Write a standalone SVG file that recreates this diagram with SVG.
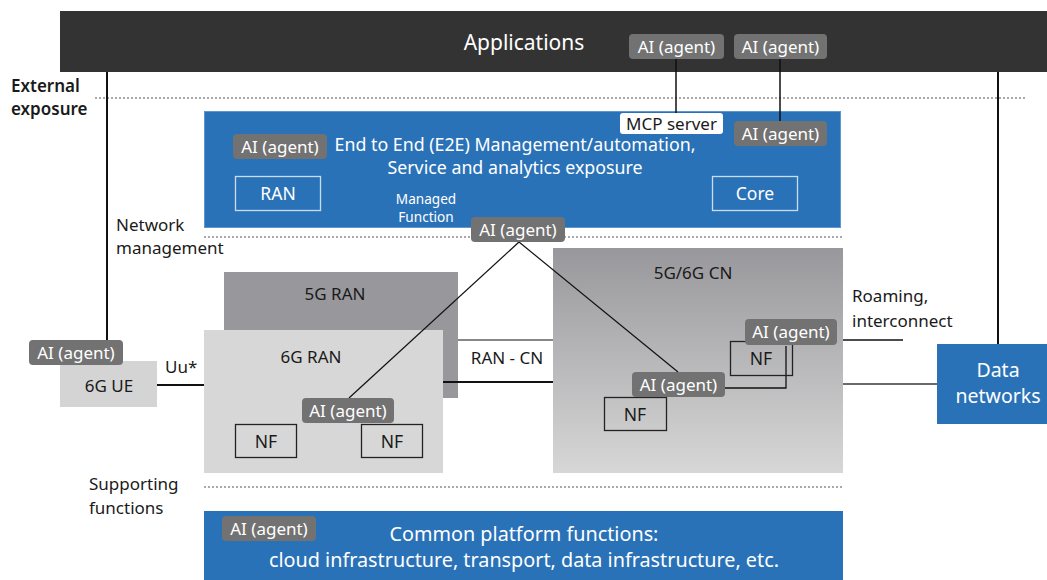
<svg xmlns="http://www.w3.org/2000/svg" width="1047" height="580" viewBox="0 0 1047 580">
  <defs>
    <linearGradient id="cnGrad" x1="0" y1="0" x2="0" y2="1">
      <stop offset="0" stop-color="#98989c"/>
      <stop offset="1" stop-color="#d7d7d7"/>
    </linearGradient>
    <style>
      text { font-family: "Noto Sans", "Liberation Sans", sans-serif; }
      .badge rect { fill: #727272; }
      .badge text { fill: #ffffff; font-size: 17px; text-anchor: middle; }
      .lbl { fill: #1a1a1a; font-size: 17px; }
      .wht { fill: #ffffff; }
      .blue { fill: #2a72b8; }
      .sep { stroke: #555; stroke-width: 1.2; stroke-dasharray: 2 2; fill: none; }
      .nf rect { fill: none; stroke: #222; stroke-width: 1.3; }
      .nf text { fill: #1a1a1a; font-size: 17.5px; text-anchor: middle; }
      .ln { stroke: #111; fill: none; }
    </style>
  </defs>

  <!-- layer separators -->
  <g id="separators">
    <line class="sep" x1="95" y1="98" x2="1025" y2="98"/>
    <line class="sep" x1="204" y1="237" x2="843" y2="237"/>
    <line class="sep" x1="204" y1="487" x2="843" y2="487"/>
  </g>

  <!-- layer labels -->
  <g id="layer-labels">
    <text class="lbl" font-weight="600"><tspan x="11" y="92">External</tspan><tspan x="11" y="115">exposure</tspan></text>
    <text class="lbl"><tspan x="116" y="231">Network</tspan><tspan x="116" y="254">management</tspan></text>
    <text class="lbl"><tspan x="89" y="490">Supporting</tspan><tspan x="89" y="514">functions</tspan></text>
  </g>

  <!-- Applications -->
  <g id="applications">
    <rect x="60" y="11" width="987" height="61" fill="#333333"/>
    <text x="524" y="50" class="wht" font-size="21" text-anchor="middle">Applications</text>
  </g>

  <!-- E2E management -->
  <g id="e2e">
    <rect x="204.5" y="111.5" width="636" height="116" class="blue" stroke="#5d97d0" stroke-width="1"/>
    <text class="wht" font-size="17.8" text-anchor="middle"><tspan x="515" y="151">End to End (E2E) Management/automation,</tspan><tspan x="515" y="174">Service and analytics exposure</tspan></text>
    <text class="wht" font-size="13.6" text-anchor="middle"><tspan x="426" y="204">Managed</tspan><tspan x="426" y="222">Function</tspan></text>
  </g>
  <g id="e2e-ran">
    <rect x="235.5" y="176.5" width="85" height="34" fill="none" stroke="#c9dcf0" stroke-width="1.3"/>
    <text x="278" y="200" class="wht" font-size="17.5" text-anchor="middle">RAN</text>
  </g>
  <g id="e2e-core">
    <rect x="712.5" y="176.5" width="85" height="34" fill="none" stroke="#c9dcf0" stroke-width="1.3"/>
    <text x="755" y="200" class="wht" font-size="17.5" text-anchor="middle">Core</text>
  </g>

  <!-- RAN / CN domains -->
  <g id="ran-5g">
    <rect x="224" y="272" width="234" height="126" fill="#98989c"/>
    <text x="335" y="300" class="lbl" font-size="18" text-anchor="middle">5G RAN</text>
  </g>
  <g id="cn">
    <rect x="553" y="248" width="290" height="225" fill="url(#cnGrad)"/>
    <text x="693" y="279" class="lbl" font-size="18" text-anchor="middle">5G/6G CN</text>
  </g>
  <g id="ran-6g">
    <rect x="204" y="330" width="239" height="143" fill="#d7d7d7"/>
    <text x="311" y="363" class="lbl" font-size="18" text-anchor="middle">6G RAN</text>
  </g>
  <g id="ue-6g">
    <rect x="60" y="361" width="97" height="46" fill="#d4d4d4"/>
    <text x="109" y="392" class="lbl" font-size="18.5" text-anchor="middle">6G UE</text>
  </g>
  <g id="data-networks">
    <rect x="937" y="344" width="110" height="80" class="blue"/>
    <text class="wht" font-size="19.5" text-anchor="middle"><tspan x="998" y="377">Data</tspan><tspan x="998" y="403">networks</tspan></text>
  </g>
  <g id="common-platform">
    <rect x="204" y="511" width="639" height="69" class="blue"/>
    <text class="wht" font-size="19.8" text-anchor="middle"><tspan x="524" y="541">Common platform functions:</tspan><tspan x="524" y="567">cloud infrastructure, transport, data infrastructure, etc.</tspan></text>
  </g>

  <!-- connectors -->
  <g id="connectors">
    <line class="ln" x1="107" y1="72" x2="107" y2="341" stroke-width="2"/>
    <line class="ln" x1="998" y1="72" x2="998" y2="344" stroke-width="2"/>
    <line class="ln" x1="676" y1="59" x2="676" y2="114" stroke-width="1.5"/>
    <line class="ln" x1="780" y1="59" x2="780" y2="122" stroke-width="1.5"/>
    <line class="ln" x1="157" y1="385" x2="204" y2="385" stroke-width="2"/>
    <line class="ln" x1="458" y1="340" x2="553" y2="340" stroke-width="1.2"/>
    <line class="ln" x1="443" y1="382" x2="553" y2="382" stroke-width="2"/>
    <line class="ln" x1="519" y1="242" x2="349" y2="398" stroke-width="1.2"/>
    <line class="ln" x1="519" y1="242" x2="678" y2="372" stroke-width="1.2"/>
    <line class="ln" x1="843" y1="340" x2="903" y2="340" stroke-width="1.3"/>
    <line x1="843" y1="384" x2="937" y2="384" stroke="#6a6a6a" stroke-width="2"/>
    <polyline class="ln" points="786,346 786,388 725,388" stroke-width="1.3"/>
  </g>
  <text x="165" y="373" class="lbl">Uu*</text>
  <text x="507" y="364" class="lbl" text-anchor="middle">RAN - CN</text>
  <text class="lbl" font-size="20.5"><tspan x="852" y="302">Roaming,</tspan><tspan x="852" y="327">interconnect</tspan></text>

  <!-- network functions -->
  <g id="nf-ran-1" class="nf"><rect x="235.5" y="424.5" width="61" height="33"/><text x="266" y="448">NF</text></g>
  <g id="nf-ran-2" class="nf"><rect x="361.5" y="424.5" width="61" height="33"/><text x="392" y="448">NF</text></g>
  <g id="nf-cn-1" class="nf"><rect x="604.5" y="397.5" width="62" height="33"/><text x="635" y="421">NF</text></g>
  <g id="nf-cn-2" class="nf"><rect x="730.5" y="341.5" width="62" height="34"/><text x="761" y="365">NF</text></g>

  <!-- MCP server -->
  <g id="mcp-server">
    <rect x="620" y="113" width="103" height="21" rx="3" fill="#ffffff"/>
    <text x="671.5" y="130" class="lbl" font-size="17.5" text-anchor="middle">MCP server</text>
  </g>

  <!-- AI agents -->
  <g id="agent-app-1" class="badge"><rect x="629" y="34" width="95" height="25" rx="4"/><text x="676.5" y="52.5">AI (agent)</text></g>
  <g id="agent-app-2" class="badge"><rect x="734" y="34" width="93" height="25" rx="4"/><text x="780.5" y="52.5">AI (agent)</text></g>
  <g id="agent-e2e-right" class="badge"><rect x="734" y="121" width="93" height="25" rx="4"/><text x="780.5" y="139.5">AI (agent)</text></g>
  <g id="agent-e2e-left" class="badge"><rect x="233" y="134" width="94" height="25" rx="4"/><text x="280" y="152.5">AI (agent)</text></g>
  <g id="agent-managed" class="badge"><rect x="471" y="217" width="94" height="25" rx="4"/><text x="518" y="235.5">AI (agent)</text></g>
  <g id="agent-ue" class="badge"><rect x="29" y="340" width="94" height="25" rx="4"/><text x="76" y="358.5">AI (agent)</text></g>
  <g id="agent-ran" class="badge"><rect x="302" y="398" width="92" height="25" rx="4"/><text x="348" y="416.5">AI (agent)</text></g>
  <g id="agent-cn-1" class="badge"><rect x="632" y="372" width="93" height="25" rx="4"/><text x="678.5" y="390.5">AI (agent)</text></g>
  <g id="agent-cn-2" class="badge"><rect x="745" y="319" width="92" height="26" rx="4"/><text x="791" y="337.5">AI (agent)</text></g>
  <g id="agent-platform" class="badge"><rect x="222" y="516" width="94" height="25" rx="4"/><text x="269" y="534.5">AI (agent)</text></g>
</svg>
